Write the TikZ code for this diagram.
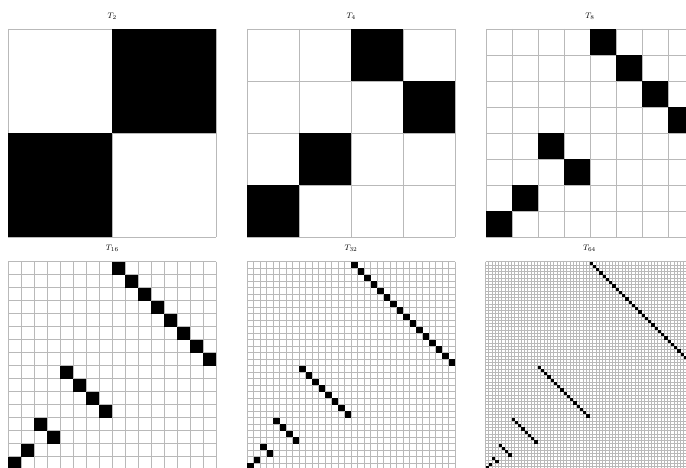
\documentclass[tikz,border=0pt]{standalone}
\usepackage{tikz}
\tikzset{
  gridline/.style={draw=gray!55, line width=#1},
  gridline/.default=0.8pt,
  paneltitle/.style={inner sep=0pt, font=\fontsize{8}{9.5}\selectfont},
  blackcell/.style={fill=black}
}
% #1 = exponent p (N = 2^p), #2 = x0, #3 = y0, #4 = grid line width
\newcommand\permpanel[4]{%
  \pgfmathtruncatemacro\NN{2^#1}%
  \pgfmathsetmacro\cs{208/\NN}%
  \node[paneltitle] (title#1) at ({#2+104},{#3-13}) {$T_{\NN}$};
  \foreach \j in {0,...,\NN}{
    \draw[gridline=#4] ({#2+\j*\cs},#3) -- ++(0,208);
    \draw[gridline=#4] (#2,{#3+\j*\cs}) -- ++(208,0);
  }
  \foreach \k in {1,...,#1}{
    \pgfmathtruncatemacro\mm{\NN/2^\k}%
    \pgfmathtruncatemacro\mmm{\mm-1}%
    \foreach \i in {0,...,\mmm}{
      \pgfmathtruncatemacro\rr{\NN-2*\mm+\i}%
      \pgfmathtruncatemacro\cc{\mm+\i}%
      \fill[blackcell] ({#2+\cc*\cs},{#3+\rr*\cs}) rectangle ++(\cs,\cs);
    }
  }
  \fill[blackcell] (#2,{#3+(\NN-1)*\cs}) rectangle ++(\cs,\cs);
}
\begin{document}
\begin{tikzpicture}[x=1pt,y=-1pt]
  \path[use as bounding box] (0,0) rectangle (686,468);
  \clip (0,0) rectangle (686,468);
  \fill[white] (0,0) rectangle (686,468);
  \permpanel{1}{8.3}{29}{0.8pt}
  \permpanel{2}{247.3}{29}{0.8pt}
  \permpanel{3}{486}{29}{0.8pt}
  \permpanel{4}{8.3}{261.7}{0.8pt}
  \permpanel{5}{247}{261.7}{0.7pt}
  \permpanel{6}{485.5}{261.7}{0.65pt}
\end{tikzpicture}
\end{document}
